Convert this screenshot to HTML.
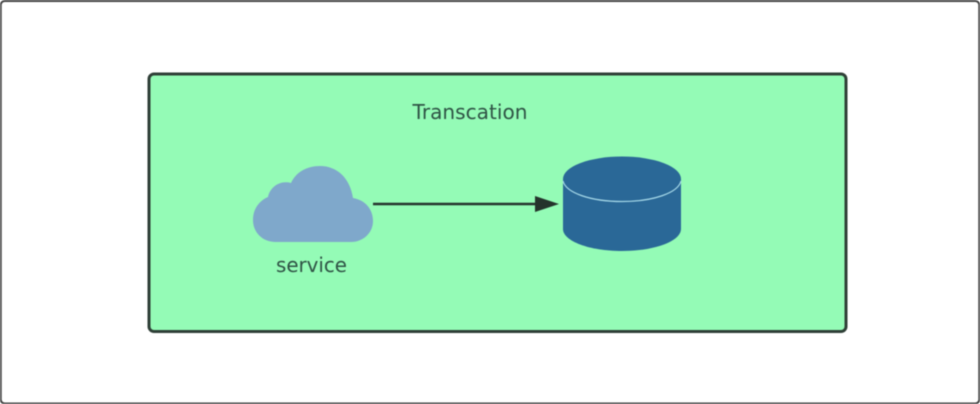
<!DOCTYPE html>
<html>
<head>
<meta charset="utf-8">
<style>
html,body{margin:0;padding:0;background:#fff;width:980px;height:404px;overflow:hidden}
svg{display:block;filter:blur(0.55px)}
text{font-family:"DejaVu Sans","Liberation Sans",sans-serif;fill:#2f5345}
</style>
</head>
<body>
<svg width="980" height="404" viewBox="0 0 980 404" xmlns="http://www.w3.org/2000/svg">
  <rect x="0.7" y="1" width="978.600" height="402.500" rx="4" fill="#fff" stroke="#444" stroke-width="2"/>
  <rect x="149" y="74" width="697" height="257.500" rx="5" fill="#94fbb6" stroke="#2f3f37" stroke-width="3"/>
  <text x="470" y="119" font-size="20" text-anchor="middle" textLength="115" lengthAdjust="spacingAndGlyphs">Transcation</text>
  <path d="M276 242 C262 242 253 232 253 220 C253 209 259 201 268 197 C270 187 280 180 291 183 C296 172 307 166 320 166 C337 166 350 178 353 198 C365 200 373 209 373 221 C373 233 363 242 351 242 Z" fill="#7fa8cb"/>
  <text x="311.500" y="272" font-size="20" text-anchor="middle" textLength="71" lengthAdjust="spacingAndGlyphs">service</text>
  <line x1="373" y1="204" x2="538" y2="204" stroke="#25332c" stroke-width="2.600"/>
  <polygon points="535,196 559,204 535,212" fill="#25332c"/>
  <path d="M563 179 V229 C563 241 589 251 622 251 C655 251 681 241 681 229 V179 Z" fill="#2a6897"/>
  <ellipse cx="622" cy="179" rx="59" ry="22.500" fill="#2a6897"/>
  <path d="M563 181 C566 193 591 201.500 622 201.500 C653 201.500 678 193 681 181" fill="none" stroke="#a5d8e8" stroke-width="1.200"/>
</svg>
</body>
</html>
